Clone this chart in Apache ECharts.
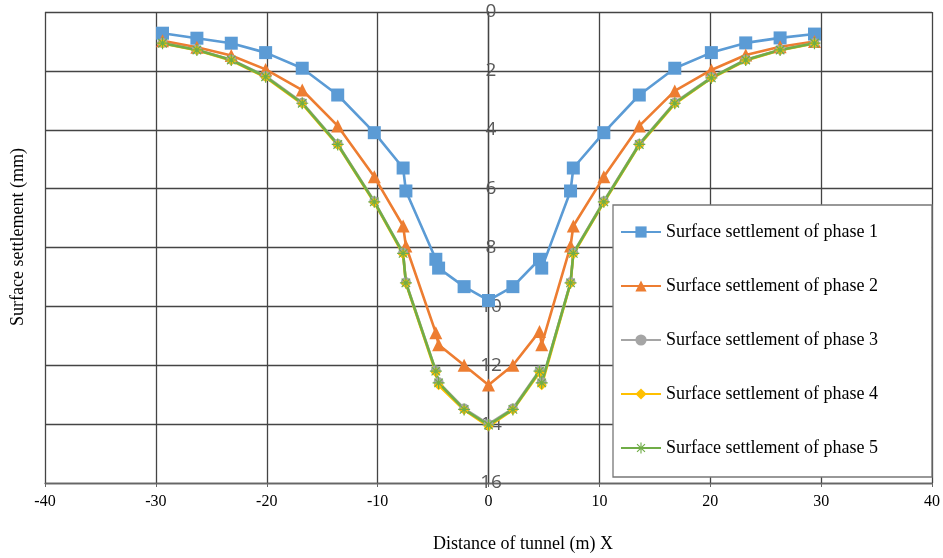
<!DOCTYPE html>
<html>
<head>
    <meta charset="UTF-8">
    <title>Surface settlement</title>
    <script src="https://cdn.jsdelivr.net/npm/echarts@6/dist/echarts.min.js"></script>
    <style>
        html, body { margin: 0; padding: 0; background: #fff; }
        #chart { width: 943px; height: 558px; }
    </style>
</head>
<body>
<div id="chart"></div>
<script>
    // distance from tunnel axis (m)
    var xVals = [-29.4, -26.3, -23.2, -20.1, -16.8, -13.6, -10.3, -7.7, -7.45, -4.75, -4.5, -2.2, 0,
                 2.2, 4.6, 4.8, 7.4, 7.65, 10.4, 13.6, 16.8, 20.1, 23.2, 26.3, 29.4];

    // settlement (mm) per phase
    var phase1 = [0.72, 0.89, 1.06, 1.38, 1.91, 2.82, 4.1, 5.3, 6.08, 8.4, 8.7, 9.33, 9.8,
                  9.33, 8.4, 8.7, 6.08, 5.3, 4.1, 2.82, 1.91, 1.38, 1.05, 0.88, 0.75];
    var phase2 = [0.98, 1.2, 1.48, 1.95, 2.65, 3.87, 5.6, 7.27, 7.95, 10.9, 11.3, 12.0, 12.67,
                  12.0, 10.85, 11.3, 7.95, 7.27, 5.6, 3.87, 2.68, 1.97, 1.46, 1.18, 1.0];
    var phase3 = [1.05, 1.28, 1.62, 2.18, 3.08, 4.48, 6.43, 8.18, 9.18, 12.18, 12.58, 13.47, 14.0,
                  13.47, 12.18, 12.58, 9.18, 8.18, 6.43, 4.48, 3.08, 2.22, 1.62, 1.28, 1.05];
    var phase4 = [1.07, 1.3, 1.65, 2.22, 3.12, 4.52, 6.47, 8.23, 9.22, 12.25, 12.68, 13.52, 14.08,
                  13.52, 12.25, 12.68, 9.22, 8.23, 6.47, 4.52, 3.12, 2.25, 1.65, 1.3, 1.07];
    var phase5 = [1.06, 1.29, 1.63, 2.2, 3.1, 4.5, 6.45, 8.2, 9.2, 12.2, 12.6, 13.5, 14.03,
                  13.5, 12.2, 12.6, 9.2, 8.2, 6.45, 4.5, 3.1, 2.24, 1.63, 1.29, 1.06];

    var names = ["Surface settlement of phase 1", "Surface settlement of phase 2",
                 "Surface settlement of phase 3", "Surface settlement of phase 4",
                 "Surface settlement of phase 5"];
    var colors = ["#5B9BD5", "#ED7D31", "#A5A5A5", "#FFC000", "#70AD47"];

    var asterisk = "path://M9,0h2v20h-2z M0,9h20v2h-20z M2.2,3.6L3.6,2.2L17.8,16.4L16.4,17.8z M16.4,2.2L17.8,3.6L3.6,17.8L2.2,16.4z";
    var symbols = ["rect", "triangle", "circle", "diamond", asterisk];
    var sizes = [13, 13, 10, 10, 12];
    var allData = [phase1, phase2, phase3, phase4, phase5];

    function pairs(vals) {
        var out = [];
        for (var i = 0; i < xVals.length; i++) {
            out.push([xVals[i], vals[i]]);
        }
        return out;
    }

    var series = [];
    for (var k = 0; k < allData.length; k++) {
        series.push({
            name: names[k],
            type: "line",
            data: pairs(allData[k]),
            symbol: symbols[k],
            symbolSize: sizes[k],
            showAllSymbol: true,
            lineStyle: { color: colors[k], width: 2.6 },
            itemStyle: { color: colors[k] }
        });
    }

    var chart = echarts.init(document.getElementById("chart"));
    var option = {
        animation: false,
        backgroundColor: "#fff",
        color: colors,
        grid: { left: 45, right: 7, top: 12, bottom: 75 },
        xAxis: {
            type: "value",
            min: -40,
            max: 40,
            interval: 10,
            axisLine: { onZero: false, lineStyle: { color: "#666", width: 1.3 } },
            axisTick: { show: true, length: 4, lineStyle: { color: "#666" } },
            axisLabel: {
                margin: 11,
                color: "#000",
                fontFamily: "Liberation Serif",
                fontSize: 16
            },
            splitLine: { show: true, lineStyle: { color: "#444", width: 1.3 } }
        },
        yAxis: {
            type: "value",
            inverse: true,
            min: 0,
            max: 16,
            interval: 2,
            axisLine: { show: true, lineStyle: { color: "#444", width: 1.3 } },
            axisTick: { show: false },
            axisLabel: {
                // labels sit on the x = 0 line
                margin: -446,
                align: "center",
                color: "#595959",
                fontFamily: "Open Sans",
                fontSize: 19
            },
            splitLine: { show: true, lineStyle: { color: "#444", width: 1.3 } }
        },
        legend: {
            orient: "vertical",
            left: 613,
            top: 205,
            padding: [18, 54, 20, 7],
            itemWidth: 40,
            itemHeight: 14,
            itemGap: 36,
            backgroundColor: "#fff",
            borderColor: "#777",
            borderWidth: 1.3,
            textStyle: { color: "#000", fontFamily: "Liberation Serif", fontSize: 18 },
            data: names
        },
        graphic: [
            {
                type: "text",
                left: 433,
                top: 535,
                style: {
                    text: "Distance of tunnel (m) X",
                    fill: "#000",
                    font: "18px 'Liberation Serif'"
                }
            },
            {
                type: "text",
                x: 18,
                y: 237,
                rotation: Math.PI / 2,
                style: {
                    text: "Surface settlement (mm)",
                    fill: "#000",
                    font: "18px 'Liberation Serif'",
                    textAlign: "center",
                    textVerticalAlign: "middle"
                }
            }
        ],
        series: series
    };
    chart.setOption(option);
</script>
</body>
</html>
